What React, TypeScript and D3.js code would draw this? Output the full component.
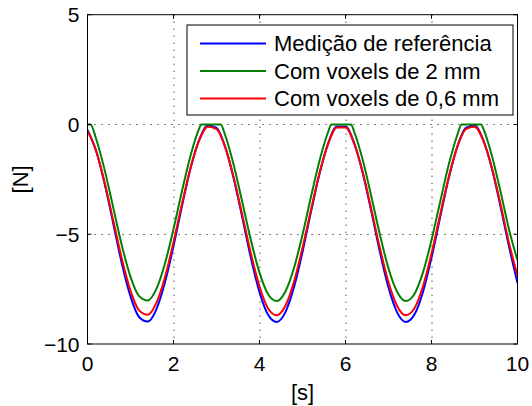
import React from "react";
import * as d3 from "d3";

// time samples (s)
const time = [0, 0.2, 0.4, 0.6, 0.8, 1.0, 1.2, 1.4, 1.6, 1.8, 2.0, 2.2, 2.4, 2.6, 2.8, 3.0, 3.2, 3.4, 3.6, 3.8, 4.0, 4.2, 4.4, 4.6, 4.8, 5.0, 5.2, 5.4, 5.6, 5.8, 6.0, 6.2, 6.4, 6.6, 6.8, 7.0, 7.2, 7.4, 7.6, 7.8, 8.0, 8.2, 8.4, 8.6, 8.8, 9.0, 9.2, 9.4, 9.6, 9.8, 10];

// Medição de referência [N]
const referenceValues = [-0.25, -1.20, -2.71, -4.52, -6.34, -7.83, -8.77, -8.98, -8.43, -7.20, -5.54, -3.69, -1.97, -0.69, -0.05, -0.16, -1.01, -2.46, -4.24, -6.08, -7.64, -8.67, -9.00, -8.56, -7.43, -5.81, -3.96, -2.21, -0.85, -0.09, -0.09, -0.84, -2.21, -3.96, -5.81, -7.43, -8.56, -9.00, -8.67, -7.64, -6.07, -4.24, -2.45, -1.01, -0.16, -0.05, -0.69, -1.97, -3.69, -5.54, -7.22];

// Com voxels de 0,6 mm [N]
const fineValues = [-0.29, -1.20, -2.65, -4.39, -6.13, -7.57, -8.47, -8.67, -8.14, -6.97, -5.36, -3.59, -1.94, -0.71, -0.10, -0.21, -1.02, -2.41, -4.12, -5.88, -7.38, -8.38, -8.69, -8.27, -7.18, -5.62, -3.86, -2.18, -0.86, -0.14, -0.14, -0.86, -2.17, -3.86, -5.63, -7.19, -8.27, -8.69, -8.38, -7.38, -5.88, -4.12, -2.40, -1.02, -0.21, -0.10, -0.71, -1.94, -3.59, -5.37, -6.90];

// Com voxels de 2 mm (own samples, including the clip corners at 0)
const coarseTime = [0, 0.07, 0.2, 0.4, 0.6, 0.8, 1.0, 1.2, 1.4, 1.6, 1.8, 2.0, 2.2, 2.4, 2.6, 2.64, 2.8, 3.0, 3.1, 3.2, 3.4, 3.6, 3.8, 4.0, 4.2, 4.4, 4.6, 4.8, 5.0, 5.2, 5.4, 5.6, 5.67, 5.8, 6.0, 6.13, 6.2, 6.4, 6.6, 6.8, 7.0, 7.2, 7.4, 7.6, 7.8, 8.0, 8.2, 8.4, 8.6, 8.7, 8.8, 9.0, 9.16, 9.2, 9.4, 9.6, 9.8, 10];
const coarseValues = [0, 0, -0.65, -2.08, -3.80, -5.52, -6.94, -7.82, -8.02, -7.50, -6.34, -4.76, -3.01, -1.39, -0.17, 0, 0, 0, 0, -0.48, -1.85, -3.54, -5.27, -6.75, -7.73, -8.04, -7.62, -6.55, -5.02, -3.27, -1.62, -0.32, 0, 0, 0, 0, -0.32, -1.61, -3.27, -5.02, -6.56, -7.62, -8.04, -7.73, -6.75, -5.27, -3.54, -1.84, -0.48, 0, 0, 0, 0, -0.17, -1.39, -3.01, -4.76, -6.2];

const xTicks = [0, 2, 4, 6, 8, 10];
const yTicks = [5, 0, -5, -10];
const gridX = [2, 4, 6, 8];
const gridY = [0, -5];

const seriesNames = ["Medição de referência", "Com voxels de 2 mm", "Com voxels de 0,6 mm"];
const seriesColors = ["#0000ff", "#008000", "#ff0000"];

const W = 532;
const H = 406;
const FONT = "'Liberation Sans', Arial, Helvetica, sans-serif";

export default function App() {
  const x = d3.scaleLinear().domain([0, 10]).range([87.5, 517.5]);
  const y = d3.scaleLinear().domain([-10, 5]).range([344, 14.7]);
  const [x0, x1] = x.range();
  const [y0, y1] = y.range();

  const line = d3
    .line<[number, number]>()
    .x((d) => x(d[0]))
    .y((d) => y(d[1]))
    .curve(d3.curveMonotoneX);

  const paths = [
    line(time.map((t, i) => [t, referenceValues[i]] as [number, number])),
    line(coarseTime.map((t, i) => [t, coarseValues[i]] as [number, number])),
    line(time.map((t, i) => [t, fineValues[i]] as [number, number])),
  ];

  const tickLen = 4;
  const fmt = (v: number) => (v < 0 ? "\u2212" + Math.abs(v) : String(v));

  const legX = 187, legY = 25, legW = 326, legH = 90;
  const rowY = [43.5, 71, 98.5];

  return (
    <svg
      width={W}
      height={H}
      style={{ position: "absolute", left: 0, top: 0, background: "#fff" }}
      fontFamily={FONT}
    >
      <rect x={0} y={0} width={W} height={H} fill="#fff" />
      <defs>
        <clipPath id="plotclip">
          <rect x={x0} y={y1} width={x1 - x0} height={y0 - y1} />
        </clipPath>
      </defs>
      {/* grid */}
      {gridX.map((g) => (
        <line key={"gx" + g} x1={x(g) + 0.5} x2={x(g) + 0.5} y1={y1} y2={y0} stroke="#000" strokeWidth={1} strokeDasharray="1 6" />
      ))}
      {gridY.map((g) => (
        <line key={"gy" + g} x1={x0} x2={x1} y1={Math.round(y(g)) + 0.5} y2={Math.round(y(g)) + 0.5} stroke="#000" strokeWidth={1} strokeDasharray="1 6" />
      ))}
      {/* curves */}
      <g clipPath="url(#plotclip)">
        {paths.map((p, i) => (
          <path key={i} d={p || ""} fill="none" stroke={seriesColors[i]} strokeWidth={2} strokeLinejoin="round" />
        ))}
      </g>
      {/* frame */}
      <rect x={x0} y={y1} width={x1 - x0} height={y0 - y1} fill="none" stroke="#000" strokeWidth={1} />
      {/* ticks */}
      {xTicks.map((t) => (
        <g key={"xt" + t}>
          <line x1={x(t)} x2={x(t)} y1={y0} y2={y0 - tickLen} stroke="#000" />
          <line x1={x(t)} x2={x(t)} y1={y1} y2={y1 + tickLen} stroke="#000" />
          <text x={x(t)} y={y0 + 27} textAnchor="middle" fontSize={21} fill="#000">
            {fmt(t)}
          </text>
        </g>
      ))}
      {yTicks.map((t) => (
        <g key={"yt" + t}>
          <line x1={x0} x2={x0 + tickLen} y1={y(t)} y2={y(t)} stroke="#000" />
          <line x1={x1} x2={x1 - tickLen} y1={y(t)} y2={y(t)} stroke="#000" />
          <text x={x0 - 8} y={y(t)} dy="0.36em" textAnchor="end" fontSize={21} fill="#000">
            {fmt(t)}
          </text>
        </g>
      ))}
      {/* axis labels */}
      <text x={(x0 + x1) / 2} y={400} textAnchor="middle" fontSize={22} fill="#000">
        [s]
      </text>
      <text
        transform={`translate(28, ${(y0 + y1) / 2}) rotate(-90)`}
        textAnchor="middle"
        fontSize={22}
        fill="#000"
      >
        [N]
      </text>
      {/* legend */}
      <rect x={legX} y={legY} width={legW} height={legH} fill="#fff" stroke="#000" strokeWidth={1} />
      {seriesNames.map((n, i) => (
        <g key={n}>
          <line x1={200} x2={266} y1={rowY[i]} y2={rowY[i]} stroke={seriesColors[i]} strokeWidth={2} />
          <text x={274} y={rowY[i]} dy="0.36em" fontSize={22} fill="#000">
            {n}
          </text>
        </g>
      ))}
    </svg>
  );
}
